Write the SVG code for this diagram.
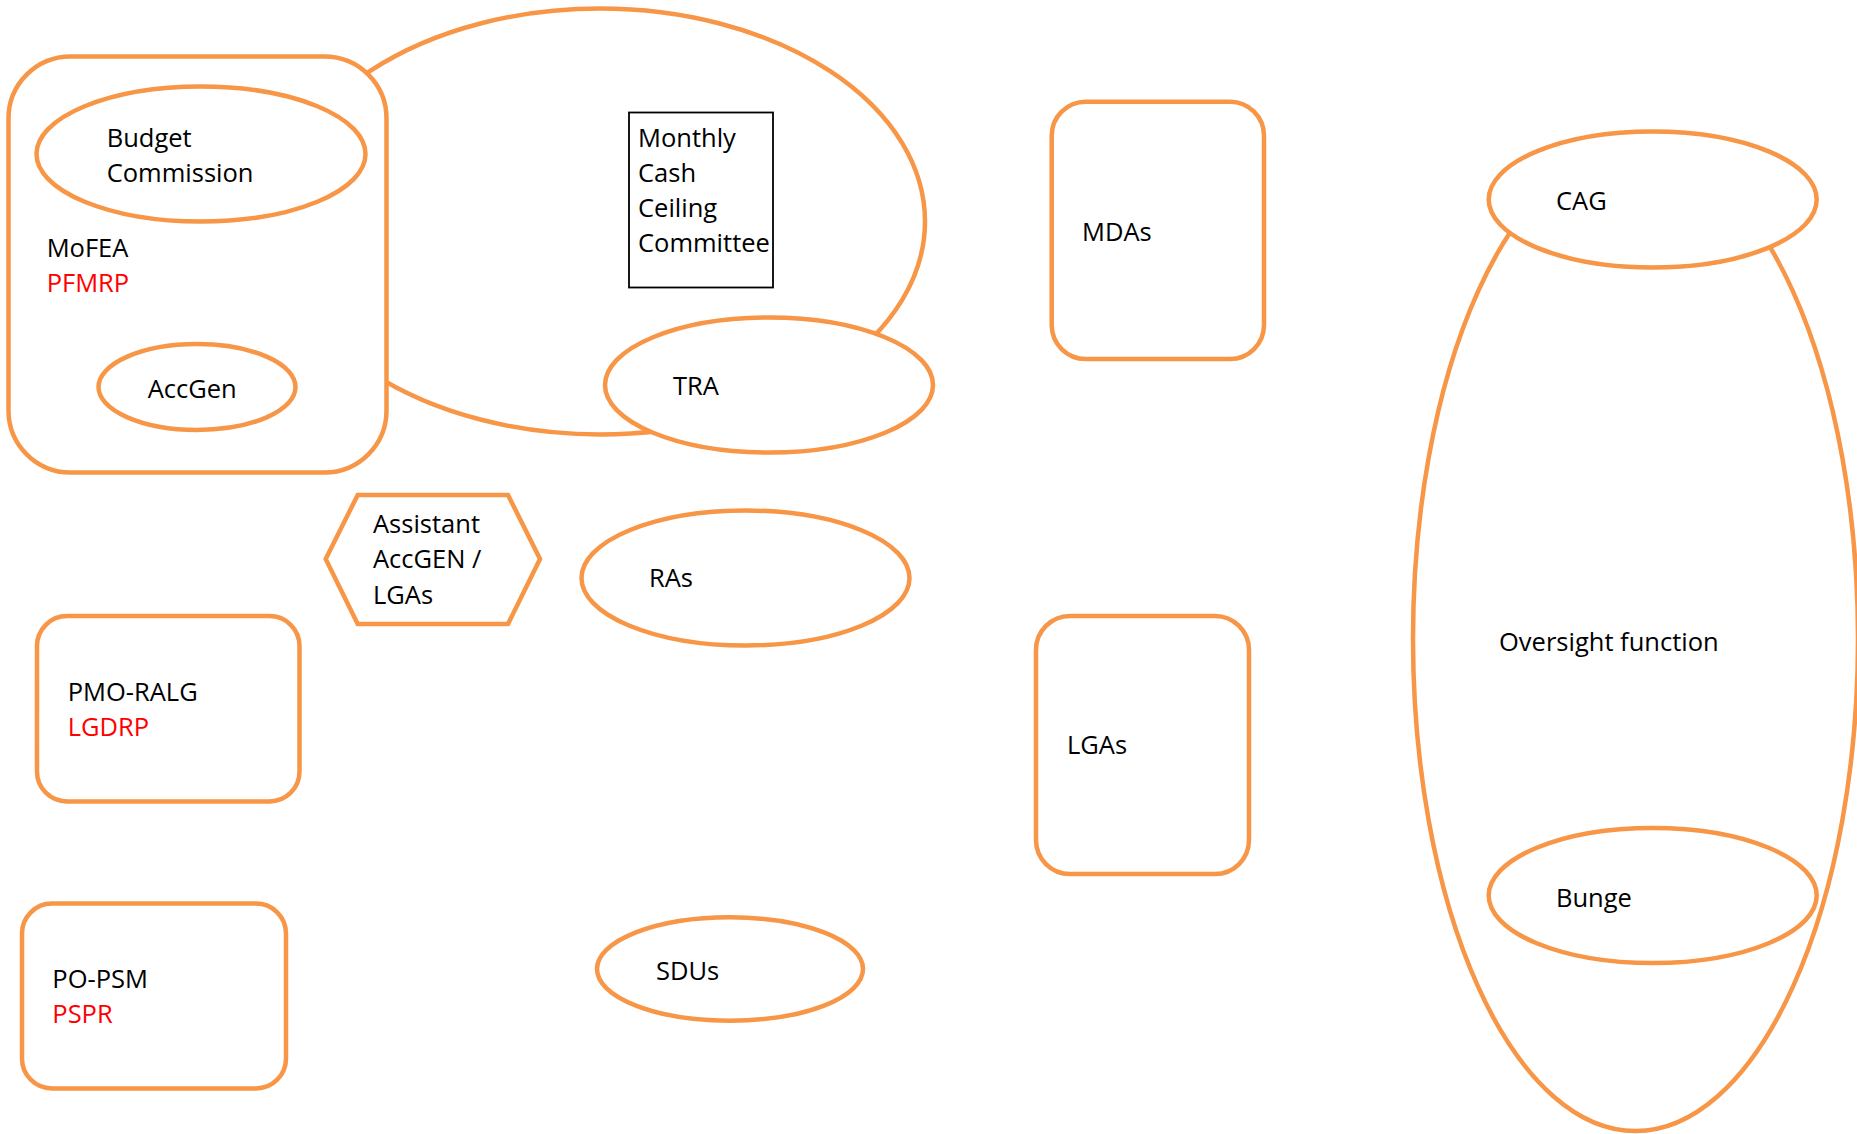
<svg xmlns="http://www.w3.org/2000/svg" width="1857" height="1134" viewBox="0 0 1857 1134">
<style>
.s{fill:#fff;stroke:#F79646;stroke-width:4.5}
.b{fill:#fff;stroke:#000;stroke-width:1.8}
text{font-family:"Open Sans","Liberation Sans",Arial,sans-serif;font-size:25.5px;fill:#000}
.r{fill:#FF0000}
</style>
<rect width="1857" height="1134" fill="#fff"/>
<g id="connectors"></g>
<g id="cash-ceiling-group">
<ellipse class="s" cx="600" cy="221.5" rx="325" ry="213"/>
</g>
<g id="monthly-cash-ceiling">
<rect class="b" x="629" y="112.5" width="144" height="175"/>
<text x="638" y="146.7">Monthly</text>
<text x="638" y="181.7">Cash</text>
<text x="638" y="216.7">Ceiling</text>
<text x="638" y="252.3">Committee</text>
</g>
<g id="tra">
<ellipse class="s" cx="769" cy="385" rx="164" ry="67.5"/>
<text x="673" y="395">TRA</text>
</g>
<g id="mofea">
<rect class="s" x="8.5" y="56.5" width="378" height="416" rx="62" ry="62"/>
<text x="46.7" y="256.7">MoFEA</text>
<text class="r" x="46.7" y="292.3">PFMRP</text>
</g>
<g id="budget-commission">
<ellipse class="s" cx="201" cy="154" rx="164.5" ry="67.5"/>
<text x="106.7" y="146.7">Budget</text>
<text x="106.7" y="181.7">Commission</text>
</g>
<g id="accgen">
<ellipse class="s" cx="197" cy="387" rx="98.5" ry="43"/>
<text x="147.7" y="397.7">AccGen</text>
</g>
<g id="assistant-accgen">
<polygon class="s" points="357.7,495 508,495 540,559 508,624 357.7,624 325.7,559"/>
<text x="373" y="533.3">Assistant</text>
<text x="373" y="568.3">AccGEN /</text>
<text x="373" y="604">LGAs</text>
</g>
<g id="ras">
<ellipse class="s" cx="745.5" cy="578" rx="164" ry="67.5"/>
<text x="649" y="587.3">RAs</text>
</g>
<g id="pmo-ralg">
<rect class="s" x="37" y="616" width="262.5" height="185.5" rx="30" ry="30"/>
<text x="67.7" y="700.7">PMO-RALG</text>
<text class="r" x="67.7" y="736">LGDRP</text>
</g>
<g id="po-psm">
<rect class="s" x="22" y="903.5" width="264" height="185" rx="30" ry="30"/>
<text x="52.3" y="987.7">PO-PSM</text>
<text class="r" x="52.3" y="1022.7">PSPR</text>
</g>
<g id="sdus">
<ellipse class="s" cx="730" cy="969" rx="133" ry="51.7"/>
<text x="656" y="980">SDUs</text>
</g>
<g id="mdas">
<rect class="s" x="1051.7" y="101.7" width="212.3" height="257.3" rx="34" ry="34"/>
<text x="1082" y="240.7">MDAs</text>
</g>
<g id="lgas">
<rect class="s" x="1036" y="616" width="213" height="258" rx="34" ry="34"/>
<text x="1067" y="754.3">LGAs</text>
</g>
<g id="oversight">
<ellipse class="s" cx="1635.5" cy="639" rx="222.5" ry="492"/>
<text x="1499" y="650.7">Oversight function</text>
</g>
<g id="cag">
<ellipse class="s" cx="1652.7" cy="199.5" rx="164" ry="68"/>
<text x="1556" y="210">CAG</text>
</g>
<g id="bunge">
<ellipse class="s" cx="1652.7" cy="895.5" rx="164" ry="67.5"/>
<text x="1556" y="906.8">Bunge</text>
</g>
</svg>
